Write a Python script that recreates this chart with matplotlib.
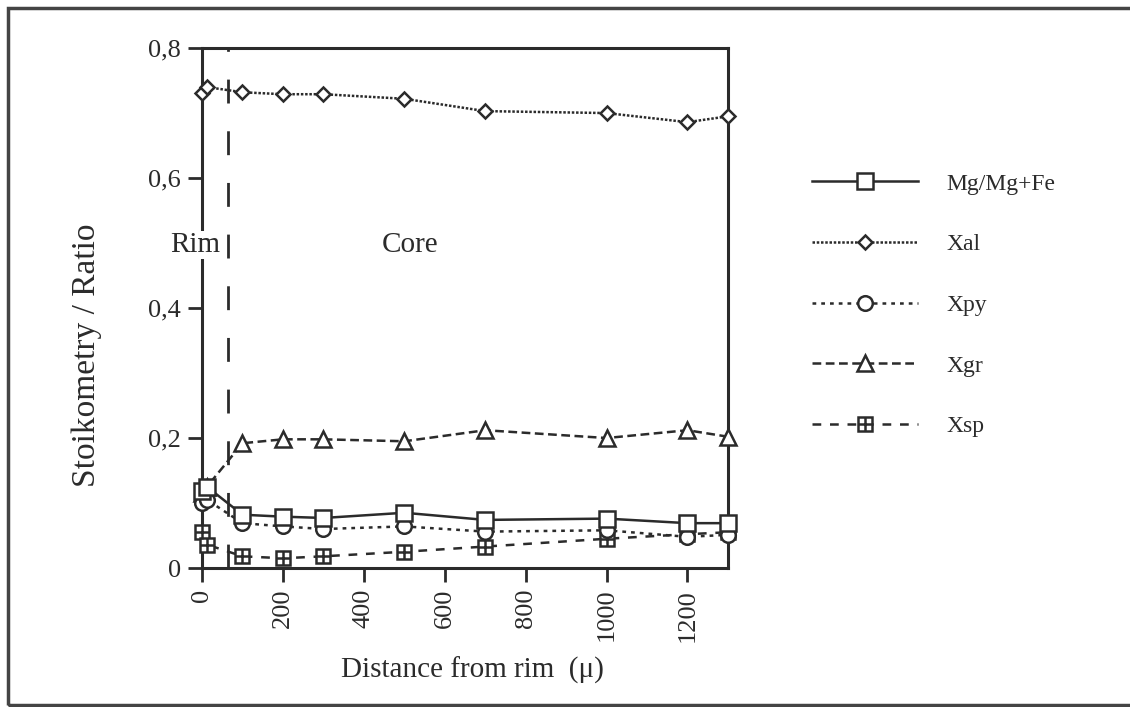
import matplotlib
matplotlib.use("Agg")
import matplotlib.pyplot as plt
from matplotlib.legend_handler import HandlerTuple
from matplotlib.patches import Rectangle
from matplotlib.ticker import FuncFormatter

distance = [0, 12, 100, 200, 300, 500, 700, 1000, 1200, 1300]
mg_ratio = [0.118, 0.125, 0.082, 0.079, 0.077, 0.085, 0.074, 0.076, 0.069, 0.069]
x_al = [0.731, 0.740, 0.732, 0.729, 0.729, 0.722, 0.703, 0.700, 0.686, 0.695]
x_py = [0.100, 0.105, 0.069, 0.064, 0.060, 0.064, 0.056, 0.058, 0.048, 0.051]
x_gr = [0.115, 0.125, 0.192, 0.198, 0.198, 0.195, 0.212, 0.200, 0.212, 0.202]
x_sp = [0.056, 0.036, 0.018, 0.015, 0.018, 0.025, 0.033, 0.045, 0.052, 0.055]
rim_boundary = 65
x_ticks = [0, 200, 400, 600, 800, 1000, 1200]
y_ticks = [0, 0.2, 0.4, 0.6, 0.8]

ink = "#2b2b2b"
plt.rcParams["font.family"] = ["Liberation Serif", "DejaVu Serif"]

fig = plt.figure(figsize=(11.3, 7.07), dpi=100)
ax = fig.add_axes([0.1788, 0.1966, 0.4654, 0.7354])

common = dict(color=ink, lw=1.8, mec=ink, mfc="white", mew=1.8, clip_on=False)
h_al, = ax.plot(distance, x_al, ls=(0, (1, 0.7)), marker="D", ms=7.5, zorder=3, **common)
h_gr, = ax.plot(distance, x_gr, ls=(0, (3.5, 1.8)), marker="^", ms=11, zorder=3, **common)
h_sp, = ax.plot(distance, x_sp, ls=(0, (3.5, 3.5)), marker="s", ms=10, zorder=4, **common)
h_sp_plus, = ax.plot(distance, x_sp, ls="none", marker="+", ms=10, mew=1.8, color=ink,
                     zorder=4, clip_on=False)
h_py, = ax.plot(distance, x_py, ls=(0, (1.5, 2)), marker="o", ms=10.5, zorder=5, **common)
h_mg, = ax.plot(distance, mg_ratio, ls="-", marker="s", ms=11, zorder=6, **common)

ax.axvline(rim_boundary, color=ink, lw=2, ls=(0, (8.6, 10)), zorder=2)
ax.text(-17, 0.497, "Rim", fontsize=21, ha="center", va="center", color=ink,
        bbox=dict(facecolor="white", edgecolor="none", pad=1), zorder=7)
ax.text(515, 0.497, "Core", fontsize=21, ha="center", va="center", color=ink)

ax.set_xlim(0, 1300)
ax.set_ylim(0, 0.8)
ax.set_xticks(x_ticks)
ax.set_yticks(y_ticks)
ax.yaxis.set_major_formatter(FuncFormatter(lambda v, _: "0" if v == 0 else f"{v:.1f}".replace(".", ",")))
ax.tick_params(direction="out", length=10, width=2, color=ink, labelcolor=ink, labelsize=19)
ax.tick_params(axis="x", labelrotation=90, pad=5)
ax.tick_params(axis="y", pad=5)
for spine in ax.spines.values():
    spine.set_linewidth(2.2)
    spine.set_color(ink)

ax.set_xlabel("Distance from rim  (\u03bc)", fontsize=21, color=ink)
ax.xaxis.set_label_coords(0.515, -0.171)
ax.xaxis.label.set_va("top")
ax.set_ylabel("Stoikometry / Ratio", fontsize=24, color=ink)
ax.yaxis.set_label_coords(-0.19, 0.41)

handles = [h_mg, h_al, h_py, h_gr, (h_sp, h_sp_plus)]
labels = ["Mg/Mg+Fe", "Xal", "Xpy", "Xgr", "Xsp"]
fig.legend(handles, labels, loc="upper left", bbox_to_anchor=(812 / 1130, 1 - 173 / 707),
           frameon=False, fontsize=17, numpoints=1, handlelength=4.5, handletextpad=1.2,
           labelspacing=1.66, borderpad=0, borderaxespad=0, labelcolor=ink,
           handler_map={tuple: HandlerTuple(ndivide=1)})

fig.patches.append(Rectangle((8 / 1130, 2 / 707), 1.2, 1 - 10 / 707, transform=fig.transFigure,
                             fill=False, lw=2.5, edgecolor="#444444"))

fig.savefig("out.png", dpi=100)
